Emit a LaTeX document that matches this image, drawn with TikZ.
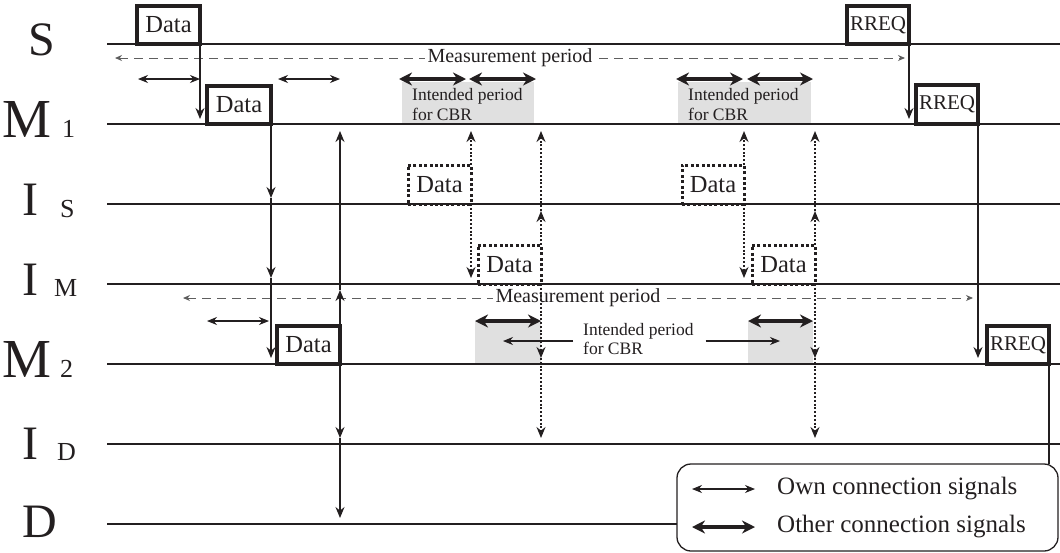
\documentclass[tikz,border=0pt]{standalone}
\usepackage{fontspec}
\setmainfont{Liberation Serif}
\usetikzlibrary{arrows.meta}
\definecolor{ink}{HTML}{231F20}
\definecolor{shadegray}{HTML}{E0E0E0}
\definecolor{dashgray}{HTML}{5E5E5E}
\begin{document}
\begin{tikzpicture}[x=1pt,y=-1pt,
  lane/.style={draw=ink, line width=1.3pt},
  pkt/.style={draw=ink, line width=3.2pt, inner sep=0pt, outer sep=0pt, anchor=south west, text=ink, font=\fontsize{24.5}{28}\selectfont},
  rreq/.style={pkt, font=\fontsize{21}{24}\selectfont},
  pktd/.style={pkt, line width=3pt, dash pattern=on 3pt off 2.4pt},
  sig/.style={draw=ink, line width=1.4pt, -{Stealth[length=11pt,width=9pt]}},
  sigd/.style={sig, dash pattern=on 2pt off 1.8pt},
  own/.style={draw=ink, line width=1.1pt, {Stealth[length=10pt,width=8pt]}-{Stealth[length=10pt,width=8pt]}},
  other/.style={draw=ink, line width=3.5pt, {Stealth[length=13pt,width=13pt]}-{Stealth[length=13pt,width=13pt]}},
  meas/.style={draw=dashgray, line width=1pt, dash pattern=on 9pt off 6pt, {Stealth[length=7pt,width=6pt]}-{Stealth[length=7pt,width=6pt]}},
  mtext/.style={fill=white, text=ink, inner xsep=3pt, inner ysep=1pt, font=\fontsize{20}{24}\selectfont},
  shadebox/.style={fill=shadegray, draw=none},
  cbr/.style={anchor=north west, inner sep=0pt, align=left, text=ink},
  big/.style={anchor=base west, inner sep=0pt, text=ink, font=\fontsize{48}{50}\selectfont},
  bigm/.style={big, font=\fontsize{55}{58}\selectfont},
  sub/.style={anchor=base west, inner sep=0pt, text=ink, font=\fontsize{26}{30}\selectfont},
  legtext/.style={anchor=west, inner sep=0pt, text=ink, font=\fontsize{25}{28}\selectfont}
]
\useasboundingbox (0,0) rectangle (1060,552);

% ---- shaded intended periods
\fill[shadebox] (402,82) rectangle (534,124);
\fill[shadebox] (678,82) rectangle (811,124);
\fill[shadebox] (475,321) rectangle (541,364);
\fill[shadebox] (748,321) rectangle (813,364);

% ---- lane coordinates
\coordinate (Sa) at (107,44);  \coordinate (Sb) at (1060,44);
\coordinate (M1a) at (107,124); \coordinate (M1b) at (1060,124);
\coordinate (ISa) at (107,204); \coordinate (ISb) at (1060,204);
\coordinate (IMa) at (107,284); \coordinate (IMb) at (1060,284);
\coordinate (M2a) at (107,364); \coordinate (M2b) at (1060,364);
\coordinate (IDa) at (107,444); \coordinate (IDb) at (1060,444);
\coordinate (Da) at (107,524);

% ---- legend box
\node[draw=ink, line width=1.3pt, rounded corners=14pt, minimum width=381pt, minimum height=87pt, anchor=north west, inner sep=0pt, outer sep=0pt] (legend) at (677,464) {};

% ---- lanes
\draw[lane] (Sa) -- (Sb);
\draw[lane] (M1a) -- (M1b);
\draw[lane] (ISa) -- (ISb);
\draw[lane] (IMa) -- (IMb);
\draw[lane] (M2a) -- (M2b);
\draw[lane] (IDa) -- (IDb);
\draw[lane] (Da) -- (Da -| legend.west);

% ---- lane labels
\node[big] (lS) at (28,55) {S};
\node[bigm] (lM1) at (2,137) {M};
\node[sub] (lM1s) at (62,137) {1};
\node[big] (lIS) at (22,215) {I};
\node[sub] (lISs) at (60,217) {S};
\node[big] (lIM) at (22,295) {I};
\node[sub] (lIMs) at (54,296) {M};
\node[bigm] (lM2) at (2,377) {M};
\node[sub] (lM2s) at (60,377) {2};
\node[big] (lID) at (22,459) {I};
\node[sub] (lIDs) at (57,460) {D};
\node[big] (lD) at (22,537) {D};

% ---- measurement periods
\coordinate (ma1) at (115,58); \coordinate (mb1) at (905,58);
\coordinate (ma2) at (183,298); \coordinate (mb2) at (973,298);
\draw[meas] (ma1) -- (mb1) node[pos=0.5, mtext] (mp1) {Measurement period};
\draw[meas] (ma2) -- (mb2) node[pos=0.5, mtext] (mp2) {Measurement period};

% ---- packets
\node[pkt, minimum width=63pt, minimum height=38pt] (dS) at (137,44) {Data};
\node[pkt, minimum width=64pt, minimum height=38pt] (dM1) at (207,124) {Data};
\node[pkt, minimum width=63pt, minimum height=38pt] (dM2) at (277,364) {Data};
\node[rreq, minimum width=62pt, minimum height=38pt] (rS) at (847,44) {RREQ};
\node[rreq, minimum width=62pt, minimum height=39pt] (rM1) at (916,124) {RREQ};
\node[rreq, minimum width=62pt, minimum height=38pt] (rM2) at (987,364) {RREQ};
\node[pktd, minimum width=63pt, minimum height=39pt] (dIS1) at (408,204) {Data};
\node[pktd, minimum width=63pt, minimum height=39pt] (dIM1) at (478,284) {Data};
\node[pktd, minimum width=62pt, minimum height=39pt] (dIS2) at (682,204) {Data};
\node[pktd, minimum width=63pt, minimum height=39pt] (dIM2) at (752,284) {Data};

% ---- tip levels
\coordinate (dnM1) at (0,119);
\coordinate (upM1) at (0,131);
\coordinate (dnIS) at (0,198);
\coordinate (upIS) at (0,211);
\coordinate (dnIM) at (0,278);
\coordinate (upIM) at (0,290);
\coordinate (dnM2) at (0,358);
\coordinate (dnID) at (0,438);
\coordinate (dnD) at (0,518);

% ---- own connection (solid) signals
\draw[sig] (dS.south east) -- (dS.south east |- dnM1);
\draw[sig] (dM1.south east) -- (dM1.south east |- dnIS);
\draw[sig] (dM1.south east |- dnIS) -- (dM1.south east |- dnIM);
\draw[sig] (dM1.south east |- dnIM) -- (dM1.south east |- dnM2);
\draw[sig] (dM2.north east) -- (dM2.north east |- upIM);
\draw[sig] (dM2.north east |- upIM) -- (dM2.north east |- upM1);
\draw[sig] (dM2.south east) -- (dM2.south east |- dnID);
\draw[sig] (dM2.south east |- dnID) -- (dM2.south east |- dnD);
\draw[sig] (rS.south east) -- (rS.south east |- dnM1);
\draw[sig] (rM1.south east) -- (rM1.south east |- dnM2);
\draw[lane] (rM2.south east) -- (rM2.south east |- legend.north);

% ---- other connection (dotted) signals
\draw[sigd] (dIS1.north east) -- (dIS1.north east |- upM1);
\draw[sigd] (dIS1.south east) -- (dIS1.south east |- dnIM);
\draw[sigd] (dIM1.north east) -- (dIM1.north east |- upIS);
\draw[sigd] (dIM1.north east |- upIS) -- (dIM1.north east |- upM1);
\draw[sigd] (dIM1.south east) -- (dIM1.south east |- dnM2);
\draw[sigd] (dIM1.south east |- dnM2) -- (dIM1.south east |- dnID);
\draw[sigd] (dIS2.north east) -- (dIS2.north east |- upM1);
\draw[sigd] (dIS2.south east) -- (dIS2.south east |- dnIM);
\draw[sigd] (dIM2.north east) -- (dIM2.north east |- upIS);
\draw[sigd] (dIM2.north east |- upIS) -- (dIM2.north east |- upM1);
\draw[sigd] (dIM2.south east) -- (dIM2.south east |- dnM2);
\draw[sigd] (dIM2.south east |- dnM2) -- (dIM2.south east |- dnID);

% ---- own-connection period arrows
\coordinate (o1a) at (138,79); \coordinate (o1b) at (200,79);
\coordinate (o2a) at (278,79); \coordinate (o2b) at (340,79);
\coordinate (o3a) at (207,321); \coordinate (o3b) at (269,321);
\draw[own] (o1a) -- (o1b);
\draw[own] (o2a) -- (o2b);
\draw[own] (o3a) -- (o3b);

% ---- other-connection period arrows
\coordinate (t1a) at (399,79); \coordinate (t1b) at (466,79);
\coordinate (t2a) at (469,79); \coordinate (t2b) at (536,79);
\coordinate (t3a) at (676,79); \coordinate (t3b) at (743,79);
\coordinate (t4a) at (747,79); \coordinate (t4b) at (813,79);
\coordinate (t5a) at (475,321); \coordinate (t5b) at (541,321);
\coordinate (t6a) at (748,321); \coordinate (t6b) at (813,321);
\draw[other] (t1a) -- (t1b);
\draw[other] (t2a) -- (t2b);
\draw[other] (t3a) -- (t3b);
\draw[other] (t4a) -- (t4b);
\draw[other] (t5a) -- (t5b);
\draw[other] (t6a) -- (t6b);

% ---- intended period labels
\node[cbr, font=\fontsize{17.5}{20}\selectfont] (cbr1) at (412,88) {Intended period\\for CBR};
\node[cbr, font=\fontsize{17.5}{20}\selectfont] (cbr2) at (688,88) {Intended period\\for CBR};
\node[cbr, font=\fontsize{17.5}{19}\selectfont] (cbr3) at (583,323) {Intended period\\for CBR};
\coordinate (cl) at (503,341);
\coordinate (cr) at (780,341);
\draw[draw=ink, line width=1.1pt, -{Stealth[length=10pt,width=8pt]}] ([xshift=-10pt]cbr3.west |- cl) -- (cl);
\draw[draw=ink, line width=1.1pt, -{Stealth[length=10pt,width=8pt]}] ([xshift=12pt]cbr3.east |- cr) -- (cr);

% ---- legend content
\coordinate (la1) at (692,489); \coordinate (lb1) at (755,489);
\coordinate (la2) at (692,527); \coordinate (lb2) at (755,527);
\draw[own] (la1) -- (lb1);
\draw[other] (la2) -- (lb2);
\node[legtext] (lt1) at (777,489) {Own connection signals};
\node[legtext] (lt2) at (777,527) {Other connection signals};
\end{tikzpicture}
\end{document}
